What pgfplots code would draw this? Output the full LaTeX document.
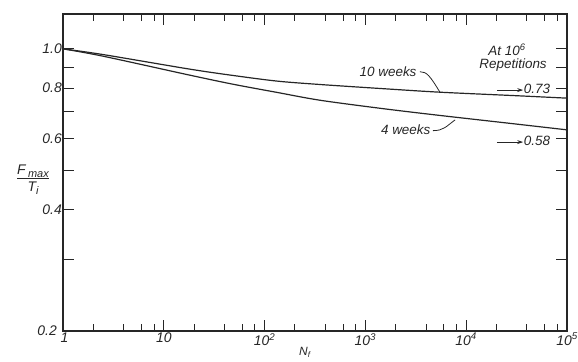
\documentclass[border=0pt]{standalone}
\usepackage{fontspec}
\setmainfont{Liberation Sans}
\usepackage{pgfplots}
\pgfplotsset{compat=1.18}
\usetikzlibrary{arrows.meta}
\definecolor{ink}{HTML}{262626}
\begin{document}
\begin{tikzpicture}[font=\itshape\fontsize{13.5}{15}\selectfont, color=ink]
\useasboundingbox (0,0) rectangle (578bp,362bp);
\begin{axis}[
  at={(63bp,31bp)}, anchor=south west,
  scale only axis, width=504bp, height=317bp,
  xmode=log, ymode=log,
  xmin=1, xmax=1e5, ymin=0.2, ymax=1.22,
  clip=false,
  axis line style={line width=1.1bp, ink},
  xtick={1,10,100,1000,10000,100000},
  xticklabels={\hspace*{3bp}1,10,10\textsuperscript{2},10\textsuperscript{3},10\textsuperscript{4},10\textsuperscript{5}},
  minor xtick={2,4,6,8,20,40,60,80,200,400,600,800,2000,4000,6000,8000,20000,40000,60000,80000},
  ytick={0.2,0.3,0.4,0.5,0.6,0.7,0.8,0.9,1.0},
  yticklabels={0.2\hspace*{5bp},,0.4,,0.6,,0.8,,1.0},
  tick align=inside, xtick pos=both, ytick pos=both,
  major tick length=11bp, minor tick length=7bp,
  tick style={line width=0.9bp, ink},
  /pgf/number format/assume math mode=true,
  ticklabel style={font=\itshape\fontsize{14}{15}\selectfont, text=ink},
  yticklabel style={inner sep=1bp},
  xticklabel style={inner sep=2bp},
  ylabel={\begin{tabular}{@{}c@{}}F\,\raisebox{-2.5pt}{\fontsize{11}{11}\selectfont max}\\[-1pt]\hline\rule{0pt}{13pt}T\raisebox{-2.5pt}{\fontsize{11}{11}\selectfont i}\end{tabular}},
  ylabel style={at={(axis description cs:-0.0595,0.476)}, rotate=-90, anchor=center, font=\itshape\fontsize{14}{15}\selectfont},
  xlabel={N\textsubscript{f}},
  xlabel style={at={(axis description cs:0.48,-0.068)}, anchor=center, font=\itshape\fontsize{12}{13}\selectfont},
]
% 10 weeks
\addplot[ink, line width=1.2bp, smooth, tension=0.5] coordinates {
(1,1.0) (2.5,0.968) (18,0.891) (49,0.859) (133,0.832) (355,0.816) (1500,0.797) (5500,0.781) (30000,0.766) (100000,0.755)
};
% 4 weeks
\addplot[ink, line width=1.2bp, smooth, tension=0.5] coordinates {
(1,1.0) (2.5,0.959) (18,0.861) (49,0.817) (133,0.780) (355,0.746) (1500,0.711) (5500,0.684) (30000,0.652) (100000,0.630)
};
\node at (rel axis cs:0.645,0.817) {10 weeks};
\draw[line width=0.8bp] (rel axis cs:0.708,0.818) .. controls (rel axis cs:0.722,0.818) and (rel axis cs:0.728,0.805) .. (rel axis cs:0.748,0.753);
\node at (rel axis cs:0.680,0.634) {4 weeks};
\draw[line width=0.8bp] (rel axis cs:0.734,0.632) .. controls (rel axis cs:0.755,0.632) and (rel axis cs:0.760,0.645) .. (rel axis cs:0.778,0.666);
\node at (rel axis cs:0.881,0.886) {At 10\textsuperscript{6}};
\node at (rel axis cs:0.893,0.839) {Repetitions};
\draw[line width=0.8bp, -{Stealth[length=6bp,width=4bp]}] (rel axis cs:0.861,0.760) -- (rel axis cs:0.913,0.760);
\node[anchor=west, inner sep=0.5bp] at (rel axis cs:0.913,0.764) {0.73};
\draw[line width=0.8bp, -{Stealth[length=6bp,width=4bp]}] (rel axis cs:0.861,0.596) -- (rel axis cs:0.913,0.596);
\node[anchor=west, inner sep=0.5bp] at (rel axis cs:0.913,0.600) {0.58};
\end{axis}
\end{tikzpicture}
\end{document}
